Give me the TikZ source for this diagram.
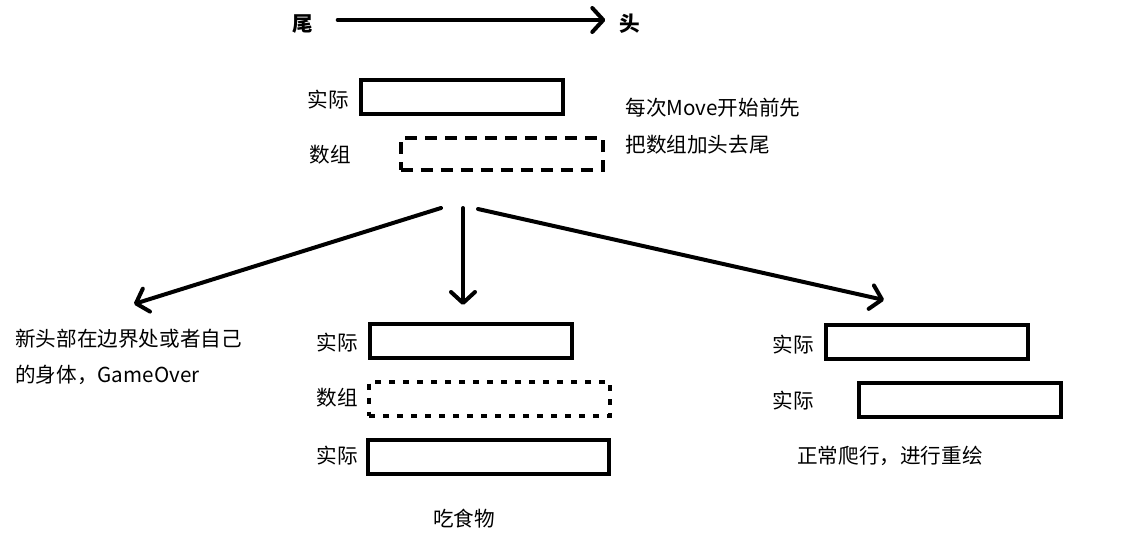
\documentclass[tikz,border=0pt]{standalone}
\usepackage{fontspec}
\setmainfont{Noto Sans CJK SC}
\usetikzlibrary{positioning, arrows.meta}

\begin{document}
\begin{tikzpicture}[
 x=0.5pt, y=-0.5pt,
 label_txt/.style={inner sep=0pt, anchor=west, font=\fontsize{10.3}{12}\selectfont},
 end_txt/.style={inner sep=0pt, font=\fontsize{10.3}{12}\selectfont\bfseries},
 real_box/.style={rectangle, draw=black, line width=2pt, inner sep=0pt,
   minimum width=101pt, minimum height=17pt},
 arr_box/.style={real_box, dash pattern=on 6pt off 4pt},
 dot_box/.style={real_box, dash pattern=on 3pt off 4pt},
 wide/.style={minimum width=120.5pt},
 flow_edge/.style={-{Straight Barb[length=5.5pt, width=12pt, round]}, line width=2pt, line cap=round}
]
\useasboundingbox (0,0) rectangle (1137,552);

% tail -> head
\node[end_txt] (tail) at (303,24) {尾};
\node[end_txt] (head) at (630,24) {头};
\draw[flow_edge] ([xshift=12pt, yshift=2pt]tail.east) -- ([xshift=-7pt, yshift=2pt]head.west);

% before every move
\node[real_box] (real0) at (462,97) {};
\node[arr_box, minimum height=16pt] (arr0) at (501.5,154) {};
\node[label_txt] (real0l) at (307,100) {实际};
\node[label_txt] (arr0l) at (309,155) {数组};
\node[label_txt] (note1) at (625,108) {每次Move开始前先};
\node[label_txt] (note2) at (625,145) {把数组加头去尾};

% game over
\node[label_txt] (over1) at (15,339) {新头部在边界处或者自己};
\node[label_txt] (over2) at (15,375) {的身体，GameOver};

% eat food
\node[real_box] (real1) at (470.5,340.5) {};
\node[dot_box, wide] (arr1) at (489.5,398.5) {};
\node[real_box, wide] (real2) at (488.5,456.5) {};
\node[label_txt] (real1l) at (316,343) {实际};
\node[label_txt] (arr1l) at (316,398) {数组};
\node[label_txt] (real2l) at (316,456) {实际};
\node[label_txt, anchor=center] (eat) at (464,519) {吃食物};

% normal crawl
\node[real_box] (real3) at (927,342) {};
\node[real_box] (real4) at (960,400) {};
\node[label_txt] (real3l) at (772,345) {实际};
\node[label_txt] (real4l) at (772,401) {实际};
\node[label_txt, anchor=center] (crawl) at (890,456) {正常爬行，进行重绘};

\coordinate (forkL) at (441,208);
\coordinate (forkM) at (463,208);
\coordinate (forkR) at (478,209);
\coordinate (toL) at (134,304);
\coordinate (toM) at (463,305);
\coordinate (toR) at (884,300);
\draw[flow_edge] (forkL) -- (toL);
\draw[flow_edge] (forkM) -- (toM);
\draw[flow_edge] (forkR) -- (toR);
\end{tikzpicture}
\end{document}
